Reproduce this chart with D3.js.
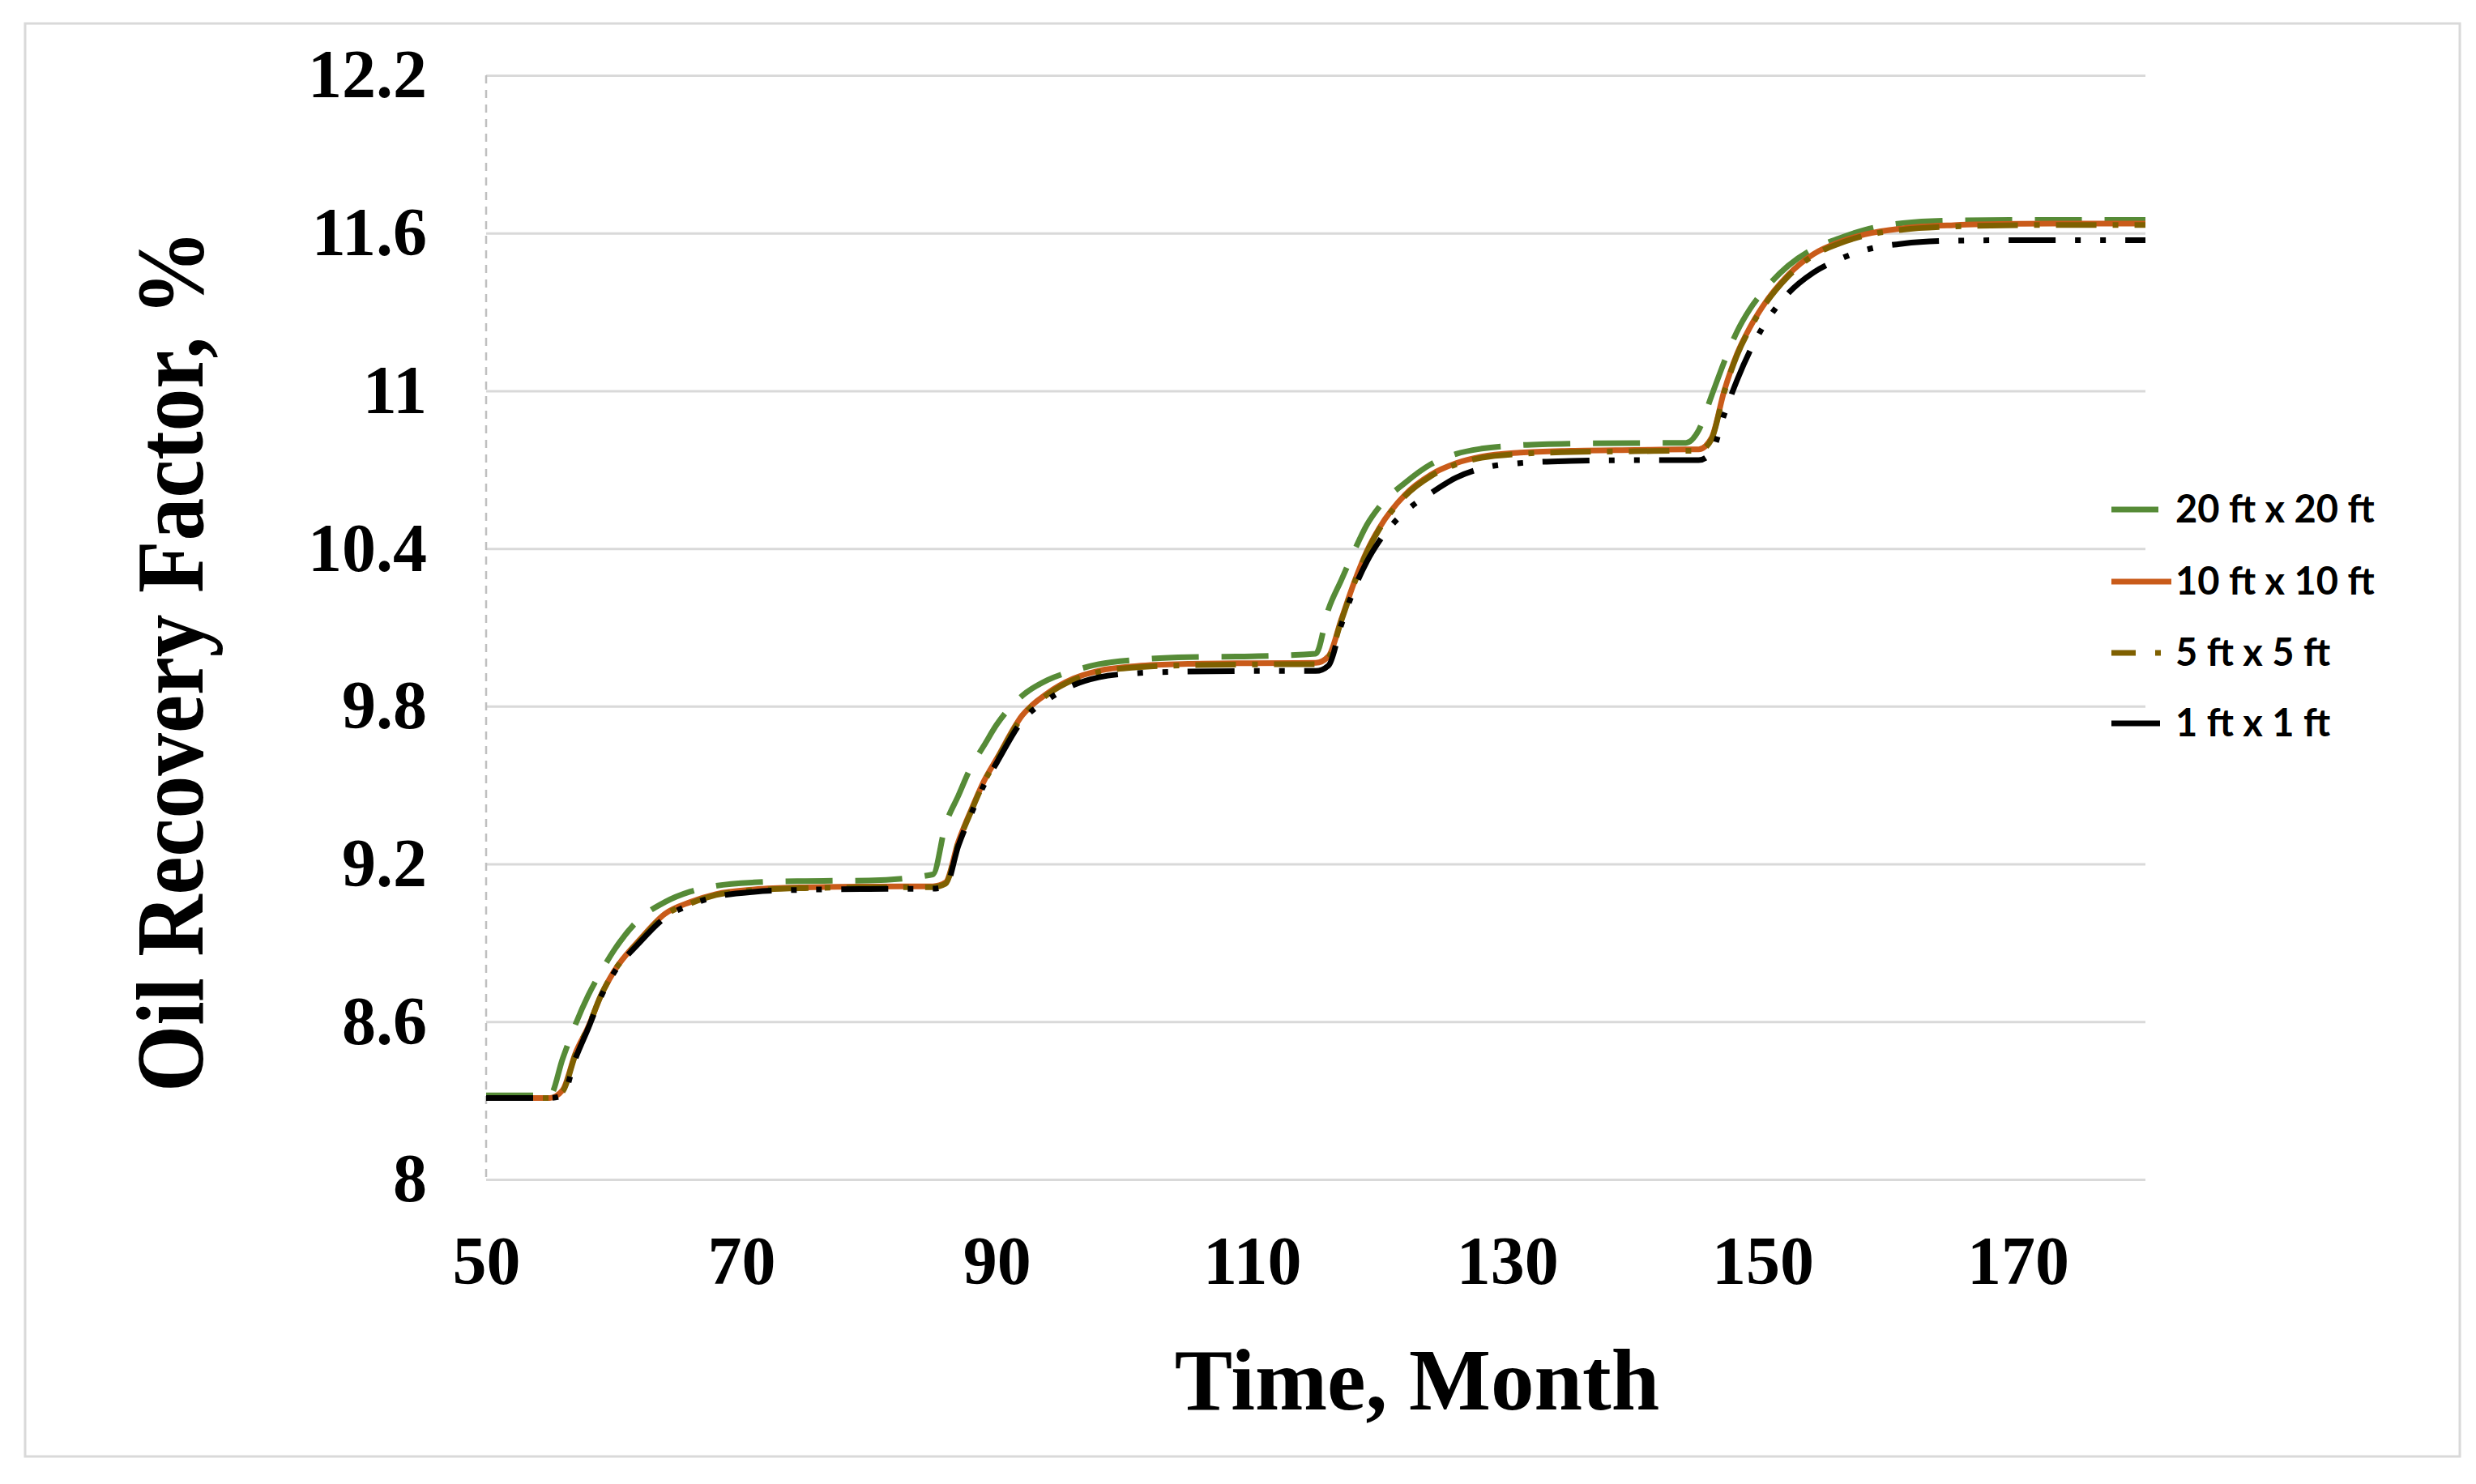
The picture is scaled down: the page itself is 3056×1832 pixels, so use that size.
<!DOCTYPE html>
<html>
  <head>
    <meta charset="utf-8">
    <title>oil recovery factor</title>
    <script src="https://d3js.org/d3.v7.min.js" charset="utf-8"></script>
    <style>
      body { margin: 0; background: #fff; }
    </style>
  </head>

  <body>
    <script type="text/javascript">

      //Width and height
      var w = 3056;
      var h = 1832;

      //Time axis (months)
      var months = [50, 55, 56, 57, 58, 59, 60, 62, 64, 66, 68, 71, 75, 80, 85,
                    86, 87, 88, 89, 90, 92, 94, 96, 98, 101, 105, 110, 115,
                    116, 117, 118, 119, 120, 122, 124, 126, 128, 131, 135, 140, 144, 145,
                    146, 147, 148, 149, 150, 152, 154, 156, 158, 161, 165, 170, 175, 180];

      //Oil recovery factor, % - one array per grid size
      var grid20 = [8.32, 8.32, 8.46, 8.59, 8.70, 8.79, 8.87, 8.99, 9.055, 9.095, 9.117, 9.13, 9.135, 9.137, 9.16,
                    9.35, 9.46, 9.57, 9.65, 9.73, 9.84, 9.90, 9.935, 9.96, 9.977, 9.987, 9.99, 10.0,
                    10.17, 10.28, 10.39, 10.49, 10.56, 10.65, 10.72, 10.76, 10.78, 10.793, 10.799, 10.801, 10.802, 10.85,
                    10.98, 11.11, 11.225, 11.31, 11.375, 11.475, 11.54, 11.58, 11.612, 11.638, 11.648, 11.65, 11.65, 11.65];

      var grid10 = [8.31, 8.31, 8.34, 8.48, 8.58, 8.70, 8.79, 8.91, 9.01, 9.055, 9.085, 9.103, 9.111, 9.114, 9.115,
                    9.13, 9.285, 9.405, 9.515, 9.60, 9.765, 9.85, 9.905, 9.935, 9.953, 9.961, 9.964, 9.965,
                    9.99, 10.13, 10.27, 10.39, 10.48, 10.605, 10.68, 10.725, 10.75, 10.765, 10.772, 10.775, 10.777, 10.777,
                    10.82, 11.0, 11.14, 11.24, 11.32, 11.44, 11.52, 11.565, 11.595, 11.618, 11.63, 11.635, 11.636, 11.636];

      var grid5 = [8.31, 8.31, 8.335, 8.475, 8.58, 8.70, 8.79, 8.905, 9.005, 9.05, 9.082, 9.10, 9.108, 9.111, 9.112,
                   9.125, 9.28, 9.40, 9.51, 9.595, 9.76, 9.845, 9.90, 9.93, 9.948, 9.956, 9.959, 9.96,
                   9.985, 10.125, 10.265, 10.385, 10.475, 10.60, 10.675, 10.72, 10.745, 10.76, 10.767, 10.77, 10.772, 10.772,
                   10.815, 10.995, 11.135, 11.235, 11.315, 11.435, 11.515, 11.56, 11.59, 11.613, 11.625, 11.63, 11.631, 11.631];

      var grid1 = [8.31, 8.31, 8.32, 8.46, 8.575, 8.695, 8.785, 8.90, 8.995, 9.045, 9.075, 9.094, 9.102, 9.105, 9.106,
                   9.115, 9.27, 9.39, 9.50, 9.585, 9.745, 9.825, 9.88, 9.91, 9.926, 9.932, 9.934, 9.934,
                   9.955, 10.11, 10.245, 10.35, 10.43, 10.54, 10.61, 10.67, 10.705, 10.725, 10.733, 10.736, 10.736, 10.736,
                   10.765, 10.91, 11.04, 11.15, 11.24, 11.37, 11.45, 11.50, 11.535, 11.56, 11.571, 11.573, 11.573, 11.573];

      //Series names
      var seriesNames = ["20 ft x 20 ft", "10 ft x 10 ft", "5 ft x 5 ft", "1 ft x 1 ft"];

      //Tick labels
      var xTicks = [50, 70, 90, 110, 130, 150, 170];
      var yTicks = [8, 8.6, 9.2, 9.8, 10.4, 11, 11.6, 12.2];

      //Line styles, in the same order as seriesNames
      var styles = [
        { color: "#568b37", dash: "58,28" },
        { color: "#c95b1a", dash: null },
        { color: "#7f6000", dash: "50,20,7,20" },
        { color: "#000000", dash: "58,24,7,24,7,24" }
      ];

      var series = [grid20, grid10, grid5, grid1].map(function(vals, i) {
        return {
          name: seriesNames[i],
          style: styles[i],
          points: months.map(function(m, j) { return [m, vals[j]]; })
        };
      });

      //Plot area
      var plotLeft = 600, plotRight = 2648, plotTop = 93, plotBottom = 1456;

      //Create scales
      var xScale = d3.scaleLinear()
                     .domain([50, 180])
                     .range([plotLeft, plotRight]);

      var yScale = d3.scaleLinear()
                     .domain([8, 12.2])
                     .range([plotBottom, plotTop]);

      //Create SVG element
      var svg = d3.select("body")
                  .append("svg")
                  .attr("width", w)
                  .attr("height", h);

      svg.append("rect")
         .attr("width", w)
         .attr("height", h)
         .attr("fill", "#fff");

      //Outer chart border
      svg.append("rect")
         .attr("x", 31)
         .attr("y", 29)
         .attr("width", 3005)
         .attr("height", 1769)
         .attr("fill", "none")
         .attr("stroke", "#d9d9d9")
         .attr("stroke-width", 3);

      //Y axis with gridlines
      var yAxis = svg.append("g")
                     .attr("transform", "translate(" + plotLeft + ",0)")
                     .call(d3.axisLeft(yScale)
                             .tickValues(yTicks)
                             .tickSize(-(plotRight - plotLeft))
                             .tickPadding(73)
                             .tickFormat(function(d) { return String(d); }));

      yAxis.select(".domain").remove();
      yAxis.selectAll(".tick line")
           .attr("stroke", "#d9d9d9")
           .attr("stroke-width", 3);
      yAxis.selectAll(".tick text")
           .attr("font-family", "'Liberation Serif', 'Times New Roman', serif")
           .attr("font-weight", "bold")
           .attr("font-size", "84px")
           .attr("fill", "#000");

      //Dashed vertical axis line
      svg.append("line")
         .attr("x1", plotLeft)
         .attr("x2", plotLeft)
         .attr("y1", plotTop)
         .attr("y2", plotBottom)
         .attr("stroke", "#bfbfbf")
         .attr("stroke-width", 2.5)
         .attr("stroke-dasharray", "10,8");

      //X axis labels
      var xAxis = svg.append("g")
                     .attr("transform", "translate(0," + plotBottom + ")")
                     .call(d3.axisBottom(xScale)
                             .tickValues(xTicks)
                             .tickSize(0)
                             .tickPadding(69));

      xAxis.select(".domain").remove();
      xAxis.selectAll(".tick text")
           .attr("font-family", "'Liberation Serif', 'Times New Roman', serif")
           .attr("font-weight", "bold")
           .attr("font-size", "84px")
           .attr("fill", "#000");

      //Create lines
      var line = d3.line()
                   .x(function(d) { return xScale(d[0]); })
                   .y(function(d) { return yScale(d[1]); })
                   .curve(d3.curveMonotoneX);

      svg.selectAll("path.series")
         .data(series)
         .enter()
         .append("path")
         .attr("class", "series")
         .attr("d", function(d) { return line(d.points); })
         .attr("fill", "none")
         .attr("stroke", function(d) { return d.style.color; })
         .attr("stroke-width", 7)
         .attr("stroke-dasharray", function(d) { return d.style.dash; });

      //Legend
      var legendY = [629, 718, 806, 893];
      var legendDash = ["58,100", null, "30,24,7,100", "60,100"];
      var legendLen = [60, 74, 64, 60];

      var legend = svg.selectAll("g.legend")
                      .data(series)
                      .enter()
                      .append("g")
                      .attr("class", "legend")
                      .attr("transform", function(d, i) { return "translate(2606," + legendY[i] + ")"; });

      legend.append("line")
            .attr("x1", 0)
            .attr("x2", function(d, i) { return legendLen[i]; })
            .attr("stroke", function(d) { return d.style.color; })
            .attr("stroke-width", 7)
            .attr("stroke-dasharray", function(d, i) { return legendDash[i]; });

      legend.append("text")
            .attr("x", 79)
            .attr("y", 16)
            .text(function(d) { return d.name; })
            .attr("font-family", "Lato, 'Open Sans', sans-serif")
            .attr("font-weight", "bold")
            .attr("font-size", "47px")
            .attr("fill", "#000");

      //Axis titles
      svg.append("text")
         .attr("x", 1749)
         .attr("y", 1740)
         .attr("text-anchor", "middle")
         .attr("font-family", "'Liberation Serif', 'Times New Roman', serif")
         .attr("font-weight", "bold")
         .attr("font-size", "107px")
         .attr("fill", "#000")
         .text("Time, Month");

      svg.append("text")
         .attr("transform", "translate(250,816) rotate(-90)")
         .attr("text-anchor", "middle")
         .attr("font-family", "'Liberation Serif', 'Times New Roman', serif")
         .attr("font-weight", "bold")
         .attr("font-size", "118px")
         .attr("textLength", 1064)
         .attr("lengthAdjust", "spacingAndGlyphs")
         .attr("fill", "#000")
         .text("Oil Recovery Factor, %");

    </script>
  </body>
</html>
